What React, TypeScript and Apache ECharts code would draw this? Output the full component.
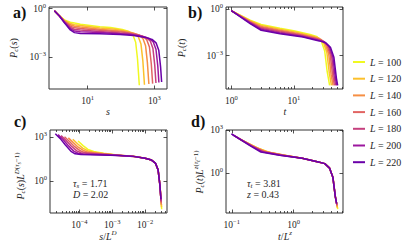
import React, { useEffect, useRef } from "react";
import * as echarts from "echarts";

const SERIF = '"Liberation Serif", "DejaVu Serif", serif';
const INK = "#262626";

// System sizes and their colours
const L_VALUES = [100, 120, 140, 160, 180, 200, 220];
const LINE_COLORS = ["#f0f921", "#fcc02c", "#f68f44", "#e16462", "#c5407e", "#9c179e", "#6a00a8"];

// Scaling exponents shown in panels c) and d)
const TAU_S = 1.71;
const D_EXP = 2.02;
const TAU_T = 3.81;
const Z_EXP = 0.43;

// Panel a: P_c(s) as [s, P] pairs
const PS_L100 = [[1, 0.74], [1.42, 0.36], [2, 0.2], [3, 0.141], [4, 0.126], [6, 0.107], [23, 0.074], [48, 0.0664], [109, 0.0498], [172, 0.0373], [226, 0.0229], [273, 0.008], [310, 7.24e-4], [333, 8.4e-5], [351, 1.68e-5]];
const PS_L120 = [[1, 0.74], [1.42, 0.355], [2, 0.186], [3, 0.117], [4, 0.1], [6, 0.088], [23, 0.062], [69.3, 0.0511], [158, 0.0383], [248, 0.0287], [327, 0.01764], [394, 0.00616], [448, 5.58e-4], [481, 6.4e-5], [501, 1.8e-5]];
const PS_L140 = [[1, 0.74], [1.42, 0.352], [2, 0.173], [3, 0.098], [4, 0.08], [6, 0.071], [23, 0.052], [94.8, 0.0409], [216, 0.0307], [340, 0.023], [448, 0.0141], [540, 0.00493], [612, 4.47e-4], [658, 5.15e-5], [679, 2.0e-5]];
const PS_L160 = [[1, 0.74], [1.42, 0.35], [2, 0.161], [3, 0.081], [4, 0.0635], [6, 0.057], [23, 0.045], [124, 0.0338], [282, 0.02535], [445, 0.019], [586, 0.01167], [706, 0.00407], [802, 3.69e-4], [861, 4.26e-5], [881, 2.14e-5]];
const PS_L180 = [[1, 0.74], [1.42, 0.348], [2, 0.15], [3, 0.068], [4, 0.05], [6, 0.046], [23, 0.038], [93, 0.0303], [157, 0.0286], [358, 0.02143], [564, 0.01607], [743, 0.00986], [895, 0.00344], [1016, 3.12e-4], [1091, 3.6e-5], [1107, 2.34e-5]];
const PS_L200 = [[1, 0.74], [1.42, 0.346], [2, 0.14], [3, 0.056], [4, 0.04], [6, 0.036], [23, 0.032], [93, 0.0274], [195, 0.0245], [443, 0.0184], [697, 0.0138], [919, 0.00847], [1107, 0.00296], [1256, 2.68e-4], [1355, 2.5e-5]];
const PS_L220 = [[1, 0.74], [1.42, 0.345], [2, 0.131], [3, 0.047], [4, 0.032], [6, 0.0286], [23, 0.027], [93, 0.0248], [236, 0.0214], [537, 0.0161], [845, 0.01205], [1114, 0.0074], [1343, 0.00258], [1524, 2.34e-4], [1637, 2.7e-5]];

// Panel b: P_c(t) as [t, P] pairs
const PT_L100 = [[1, 0.81], [2, 0.196], [3, 0.105], [6, 0.059], [9.97, 0.0415], [18.2, 0.0233], [23.1, 0.01765], [27.6, 0.00856], [31.2, 0.00202], [34.2, 9.07e-5], [37.4, 1.2e-5]];
const PT_L120 = [[1, 0.81], [2, 0.181], [3, 0.091], [6, 0.051], [10.8, 0.0333], [19.65, 0.0187], [24.97, 0.01416], [29.9, 0.00687], [33.8, 0.00162], [37.0, 7.28e-5], [40.0, 1.2e-5]];
const PT_L140 = [[1, 0.81], [2, 0.166], [3, 0.0785], [6, 0.0445], [11.5, 0.0276], [21.0, 0.01553], [26.7, 0.01175], [31.9, 0.0057], [36.1, 0.001346], [39.5, 6.04e-5], [42.4, 1.2e-5]];
const PT_L160 = [[1, 0.81], [2, 0.153], [3, 0.068], [6, 0.039], [12.2, 0.0235], [22.2, 0.01321], [28.2, 0.01], [33.8, 0.00485], [38.2, 0.001146], [41.85, 5.14e-5], [44.6, 1.2e-5]];
const PT_L180 = [[1, 0.81], [2, 0.141], [3, 0.059], [6, 0.034], [12.84, 0.0204], [23.4, 0.01147], [29.7, 0.00868], [35.6, 0.00421], [40.2, 9.94e-4], [44.0, 4.46e-5], [46.6, 1.2e-5]];
const PT_L200 = [[1, 0.81], [2, 0.13], [3, 0.051], [6, 0.0295], [13.4, 0.01795], [24.5, 0.01009], [31.1, 0.00764], [37.2, 0.00371], [42.0, 8.75e-4], [46.1, 3.93e-5], [48.5, 1.2e-5]];
const PT_L220 = [[1, 0.81], [2, 0.12], [3, 0.044], [6, 0.026], [14, 0.016], [25.5, 0.009], [32.4, 0.0068], [38.8, 0.0033], [43.8, 7.8e-4], [48, 3.5e-5], [50.3, 1.2e-5]];

const SIZE_DATA = [PS_L100, PS_L120, PS_L140, PS_L160, PS_L180, PS_L200, PS_L220];
const TIME_DATA = [PT_L100, PT_L120, PT_L140, PT_L160, PT_L180, PT_L200, PT_L220];

// Major tick exponents (decades) per panel
const A_X_TICKS = [1, 3];
const A_Y_TICKS = [-3, 0];
const B_X_TICKS = [0, 1];
const B_Y_TICKS = [-3, 0];
const C_X_TICKS = [-4, -3, -2];
const C_Y_TICKS = [0, 3];
const D_X_TICKS = [-1, 0];
const D_Y_TICKS = [0, 3];

const lg = Math.log10;

function supText(e: number): string {
  return e < 0 ? "\u2212" + Math.abs(e) : String(e);
}
function expLabel(v: number): string {
  return `{b|10}{s|${supText(Math.round(v))}}`;
}
const tickRich = {
  b: { fontFamily: SERIF, fontSize: 9.5, color: INK },
  s: { fontFamily: SERIF, fontSize: 6.5, color: INK, padding: [0, 0, 7, 0] },
};

function logMinors(lo: number, hi: number): number[] {
  const out: number[] = [];
  for (let k = Math.floor(lo) - 1; k <= Math.ceil(hi); k++) {
    for (let m = 2; m <= 9; m++) {
      const v = k + lg(m);
      if (v >= lo && v <= hi) out.push(v);
    }
  }
  return out;
}

type Panel = {
  grid: { left: number; top: number; width: number; height: number };
  x: [number, number];
  y: [number, number];
  xMajor: number[];
  yMajor: number[];
  xMinor: boolean;
  yMinor: boolean;
};

// axis extents in decades (data extent plus 5% margins, as in the source figure)
const PANELS: Panel[] = [
  { grid: { left: 49, top: 7, width: 118, height: 82 }, x: [-0.161, 3.375], y: [-5.007, 0.101], xMajor: A_X_TICKS, yMajor: A_Y_TICKS, xMinor: false, yMinor: false },
  { grid: { left: 226, top: 7, width: 117, height: 82 }, x: [-0.085, 1.787], y: [-5.162, 0.15], xMajor: B_X_TICKS, yMajor: B_Y_TICKS, xMinor: true, yMinor: false },
  { grid: { left: 50, top: 130, width: 117, height: 83 }, x: [-4.893, -1.333], y: [-2.164, 3.485], xMajor: C_X_TICKS, yMajor: C_Y_TICKS, xMinor: true, yMinor: false },
  { grid: { left: 226, top: 130, width: 117, height: 83 }, x: [-1.093, 0.798], y: [-2.766, 3.001], xMajor: D_X_TICKS, yMajor: D_Y_TICKS, xMinor: true, yMinor: false },
];

function makeAxes(dim: "x" | "y", gi: number, range: [number, number], majors: number[], minors: number[]) {
  const base = {
    type: "value",
    gridIndex: gi,
    min: range[0],
    max: range[1],
    axisLine: { show: false, onZero: false },
    splitLine: { show: false },
    minorTick: { show: false },
  };
  const posA = dim === "x" ? "bottom" : "left";
  const posB = dim === "x" ? "top" : "right";
  const tickStyle = { color: INK, width: 0.8 };
  const list: any[] = [
    {
      ...base,
      position: posA,
      axisTick: { show: true, inside: true, length: 3.5, customValues: majors, lineStyle: tickStyle },
      axisLabel: { show: true, customValues: majors, formatter: expLabel, rich: tickRich, margin: dim === "x" ? 5 : 3 },
    },
    {
      ...base,
      position: posB,
      axisTick: { show: true, inside: true, length: 3.5, customValues: majors, lineStyle: tickStyle },
      axisLabel: { show: false },
    },
  ];
  if (minors.length) {
    for (const p of [posA, posB]) {
      list.push({
        ...base,
        position: p,
        axisTick: { show: true, inside: true, length: 2, customValues: minors, lineStyle: tickStyle },
        axisLabel: { show: false },
      });
    }
  }
  return list;
}

const mathRich = {
  i: { fontFamily: SERIF, fontStyle: "italic", fontSize: 10, color: INK },
  n: { fontFamily: SERIF, fontSize: 10, color: INK },
  sb: { fontFamily: SERIF, fontStyle: "italic", fontSize: 7, color: INK, padding: [5, 0, 0, 0] },
  sp: { fontFamily: SERIF, fontStyle: "italic", fontSize: 7, color: INK, padding: [0, 0, 7, 0] },
  spn: { fontFamily: SERIF, fontSize: 7, color: INK, padding: [0, 0, 7, 0] },
  sps: { fontFamily: SERIF, fontStyle: "italic", fontSize: 5.5, color: INK, padding: [0, 0, 3, 0] },
};

function mathText(x: number, y: number, text: string, opts: any = {}) {
  return {
    type: "text",
    x,
    y,
    rotation: opts.rotation || 0,
    silent: true,
    style: {
      text,
      rich: mathRich,
      fontFamily: SERIF,
      fontSize: 10,
      fill: INK,
      align: opts.align || "center",
      verticalAlign: "middle",
    },
  };
}
function panelTag(x: number, y: number, text: string) {
  return {
    type: "text",
    x,
    y,
    silent: true,
    style: { text, fontFamily: SERIF, fontWeight: "bold", fontSize: 16, fill: "#111", align: "left", verticalAlign: "middle" },
  };
}

function buildOption() {
  const xAxis: any[] = [];
  const yAxis: any[] = [];
  const mainX: number[] = [];
  const mainY: number[] = [];
  PANELS.forEach((p, gi) => {
    mainX.push(xAxis.length);
    xAxis.push(...makeAxes("x", gi, p.x, p.xMajor, p.xMinor ? logMinors(p.x[0], p.x[1]) : []));
    mainY.push(yAxis.length);
    yAxis.push(...makeAxes("y", gi, p.y, p.yMajor, p.yMinor ? logMinors(p.y[0], p.y[1]) : []));
  });

  const series: any[] = [];
  const addSeries = (gi: number, idx: number, data: number[][]) => {
    series.push({
      type: "line",
      name: "L" + L_VALUES[idx],
      xAxisIndex: mainX[gi],
      yAxisIndex: mainY[gi],
      data,
      symbol: "none",
      showSymbol: false,
      silent: true,
      clip: true,
      z: 2 + idx,
      lineStyle: { color: LINE_COLORS[idx], width: 1.5 },
      itemStyle: { color: LINE_COLORS[idx] },
    });
  };
  L_VALUES.forEach((L, idx) => {
    const lL = lg(L);
    addSeries(0, idx, SIZE_DATA[idx].map(([s, p]) => [lg(s), lg(p)]));
    addSeries(1, idx, TIME_DATA[idx].map(([t, p]) => [lg(t), lg(p)]));
    addSeries(2, idx, SIZE_DATA[idx].map(([s, p]) => [lg(s) - D_EXP * lL, lg(p) + D_EXP * (TAU_S - 1) * lL]));
    addSeries(3, idx, TIME_DATA[idx].map(([t, p]) => [lg(t) - Z_EXP * lL, lg(p) + Z_EXP * (TAU_T - 1) * lL]));
  });

  const graphic: any[] = [
    panelTag(13, 12, "a)"),
    panelTag(188, 12, "b)"),
    panelTag(14, 121, "c)"),
    panelTag(191, 121, "d)"),
    mathText(13, 48, "{i|P}{sb|c}{n|(}{i|s}{n|)}", { rotation: Math.PI / 2 }),
    mathText(108, 111, "{i|s}"),
    mathText(181, 48, "{i|P}{sb|c}{n|(}{i|t}{n|)}", { rotation: Math.PI / 2 }),
    mathText(285, 111, "{i|t}"),
    mathText(20, 176, "{i|P}{sb|c}{n|(}{i|s}{n|)}{i|L}{sp|D}{spn|(}{sp|τ}{sps|s}{spn|\u22121)}", { rotation: Math.PI / 2 }),
    mathText(108, 236, "{i|s}{n|/}{i|L}{sp|D}"),
    mathText(199, 172, "{i|P}{sb|c}{n|(}{i|t}{n|)}{i|L}{sp|z}{spn|(}{sp|τ}{sps|t}{spn|\u22121)}", { rotation: Math.PI / 2 }),
    mathText(285, 236, "{i|t}{n|/}{i|L}{sp|z}"),
    mathText(73, 183, `{i|τ}{sb|s}{n| = ${TAU_S.toFixed(2)}}`, { align: "left" }),
    mathText(73, 194, `{i|D}{n| = ${D_EXP.toFixed(2)}}`, { align: "left" }),
    mathText(247, 183, `{i|τ}{sb|t}{n| = ${TAU_T.toFixed(2)}}`, { align: "left" }),
    mathText(247, 194, `{i|z}{n| = ${Z_EXP.toFixed(2)}}`, { align: "left" }),
  ];

  return {
    animation: false,
    backgroundColor: "#ffffff",
    grid: PANELS.map((p) => ({
      ...p.grid,
      show: true,
      borderColor: "#333",
      borderWidth: 1,
      backgroundColor: "transparent",
      containLabel: false,
      outerBoundsMode: "none",
    })),
    xAxis,
    yAxis,
    series,
    legend: {
      orient: "vertical",
      left: 353,
      top: 56,
      padding: 0,
      itemWidth: 12,
      itemHeight: 2,
      itemGap: 4.7,
      icon: "rect",
      selectedMode: false,
      data: L_VALUES.map((L) => "L" + L),
      formatter: (name: string) => `{i|L}{n| = ${name.slice(1)}}`,
      textStyle: {
        fontFamily: SERIF,
        fontSize: 10,
        color: INK,
        lineHeight: 12,
        rich: {
          i: { fontFamily: SERIF, fontStyle: "italic", fontSize: 10, color: INK, lineHeight: 12 },
          n: { fontFamily: SERIF, fontSize: 10, color: INK, lineHeight: 12 },
        },
      },
    },
    graphic,
  };
}

export default function App() {
  const ref = useRef<HTMLDivElement>(null);
  useEffect(() => {
    if (!ref.current) return;
    const chart = echarts.init(ref.current, null, { renderer: "svg" });
    chart.setOption(buildOption() as any);
    return () => chart.dispose();
  }, []);
  return <div ref={ref} style={{ position: "absolute", left: 0, top: 0, width: 415, height: 242 }} />;
}
